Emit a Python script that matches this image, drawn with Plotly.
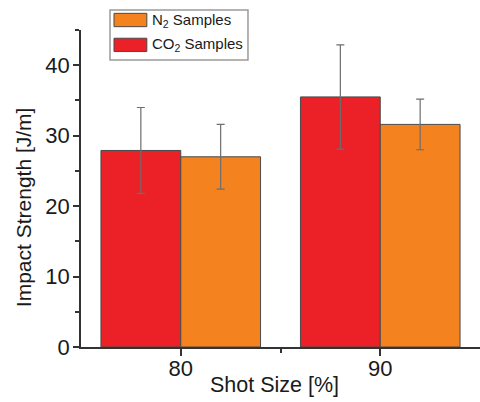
import plotly.graph_objects as go

shot_sizes = [80, 90]
co2_values = [27.9, 35.5]
co2_errors = [6.1, 7.4]
n2_values = [27.0, 31.6]
n2_errors = [4.6, 3.6]

series_names = ["CO<sub>2</sub> Samples", "N<sub>2</sub> Samples"]
x_title = "Shot Size [%]"
y_title = "Impact Strength [J/m]"

RED = "#ec2027"
ORANGE = "#f4821f"
EDGE = "#4a4a4a"
AX = "#333333"
TXT = "#1a1a1a"
FONT = "Liberation Sans, Arial, sans-serif"
NARROW = "Liberation Sans Narrow, Arial Narrow, Liberation Sans, sans-serif"

fig = go.Figure()
fig.add_trace(go.Bar(
    x=shot_sizes, y=co2_values, name=series_names[0],
    marker=dict(color=RED, line=dict(color=EDGE, width=1)),
    error_y=dict(type="data", array=co2_errors, color="#6e6e6e", thickness=1.2, width=4),
    showlegend=False,
))
fig.add_trace(go.Bar(
    x=shot_sizes, y=n2_values, name=series_names[1],
    marker=dict(color=ORANGE, line=dict(color=EDGE, width=1)),
    error_y=dict(type="data", array=n2_errors, color="#6e6e6e", thickness=1.2, width=4),
    showlegend=False,
))

# manual legend (paper coordinates)
fig.add_shape(type="rect", xref="paper", yref="paper", x0=0.0727, x1=0.4185, y0=0.905, y1=1.063,
              line=dict(color="#9a9a9a", width=1.5), fillcolor="white", layer="above")
entries = [(series_names[1], ORANGE, 1.0315), (series_names[0], RED, 0.953)]
for label, col, yc in entries:
    fig.add_shape(type="rect", xref="paper", yref="paper", x0=0.0827, x1=0.165,
                  y0=yc - 0.021, y1=yc + 0.021,
                  line=dict(color=EDGE, width=1), fillcolor=col, layer="above")
    fig.add_annotation(xref="paper", yref="paper", x=0.172, y=yc, text=label,
                       showarrow=False, xanchor="left", yanchor="middle",
                       font=dict(family=NARROW, size=15, color=TXT))

fig.add_annotation(xref="paper", yref="paper", x=0.485, y=-0.12, text=x_title,
                   showarrow=False, xanchor="center", yanchor="middle",
                   font=dict(family=FONT, size=21.5, color=TXT))
fig.add_annotation(xref="paper", yref="paper", x=-0.145, y=0.4416, text=y_title,
                   showarrow=False, xanchor="center", yanchor="middle", textangle=-90,
                   font=dict(family=FONT, size=21, color=TXT))

fig.update_layout(
    width=480, height=402,
    margin=dict(l=81, r=0, t=30, b=55),
    paper_bgcolor="white", plot_bgcolor="white",
    barmode="group", bargap=0.2, bargroupgap=0,
    font=dict(family=FONT, color=TXT),
    xaxis=dict(
        range=[75, 95], tickvals=shot_sizes, ticktext=[str(s) for s in shot_sizes],
        showgrid=False, zeroline=False, showline=True, linecolor=AX, linewidth=1.5,
        ticks="outside", ticklen=7, tickwidth=1.5, tickcolor=AX,
        minor=dict(tickvals=[85], ticks="outside", ticklen=4, tickwidth=1.5, tickcolor=AX),
        tickfont=dict(size=22, color=TXT), ticklabelstandoff=-6,
    ),
    yaxis=dict(
        range=[0, 45], tickvals=[0, 10, 20, 30, 40],
        showgrid=False, zeroline=False, showline=True, linecolor=AX, linewidth=1.5,
        ticks="outside", ticklen=6, tickwidth=1.5, tickcolor=AX,
        minor=dict(tickvals=[5, 15, 25, 35, 45], ticks="outside", ticklen=4, tickwidth=1.5, tickcolor=AX),
        tickfont=dict(size=22, color=TXT), ticklabelstandoff=-1,
    ),
)

fig.write_html("out.html")
